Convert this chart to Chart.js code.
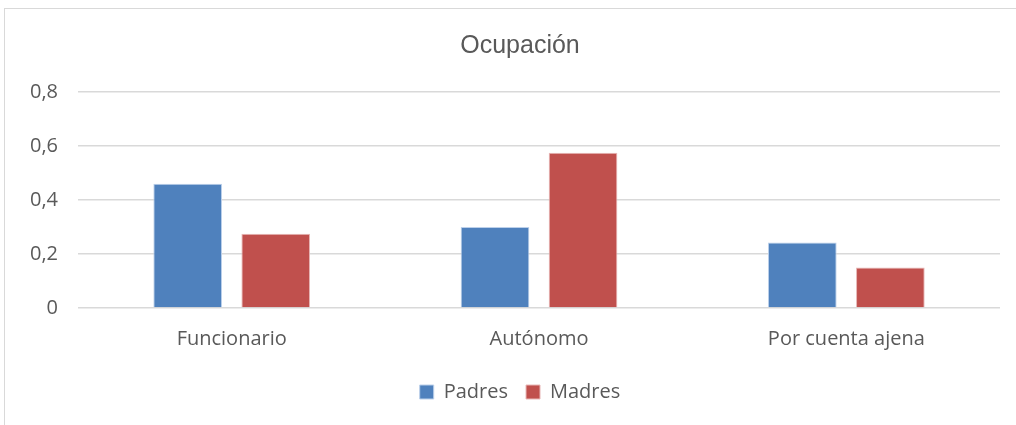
<!DOCTYPE html>
<html>
<head>
<meta charset="utf-8">
<script src="https://cdn.jsdelivr.net/npm/chart.js@4"></script>
<style>
  body { margin: 0; background: #fff; }
  #wrap { position: relative; width: 1016px; height: 425px; }
  #frame { position: absolute; left: 4px; top: 8px; width: 1030px; height: 440px; border: 1px solid #d9d9d9; box-sizing: border-box; }
  #chart { position: absolute; left: 0; top: 0; }
</style>
</head>
<body>
<div id="wrap">
  <div id="frame"></div>
  <canvas id="chart" width="1016" height="425"></canvas>
</div>
<script>
// Chart data
const categories = ['Funcionario', 'Autónomo', 'Por cuenta ajena'];
const padres = [0.46, 0.30, 0.243];
const madres = [0.275, 0.575, 0.15];
const yTicks = [0, 0.2, 0.4, 0.6, 0.8];

const textColor = '#595959';
const fontFamily = "'Open Sans', 'Noto Sans', sans-serif";

// nudge title and legend a bit right, like the original
const titleCenter = 520;
const centerBlocks = {
    id: 'centerBlocks',
    afterLayout(chart) {
        [chart.titleBlock, chart.legend].forEach(box => {
            if (box) {
                const shift = titleCenter - (box.left + box.right) / 2;
                box.left += shift;
                box.right += shift;
            }
        });
    }
};

const ctx = document.getElementById('chart').getContext('2d');
new Chart(ctx, {
    type: 'bar',
    data: {
        labels: categories,
        datasets: [{
            label: 'Padres',
            data: padres,
            backgroundColor: '#4f81bd',
            borderColor: '#bcd0ea',
            borderWidth: 1
        }, {
            label: 'Madres',
            data: madres,
            backgroundColor: '#c0504d',
            borderColor: '#e8b8b7',
            borderWidth: 1
        }]
    },
    plugins: [centerBlocks],
    options: {
        responsive: false,
        animation: false,
        categoryPercentage: 0.573,
        barPercentage: 0.78,
        layout: {
            padding: { left: 10, right: 16, top: 20, bottom: 13 }
        },
        plugins: {
            title: {
                display: true,
                text: 'Ocupación',
                color: textColor,
                font: { family: "'Liberation Sans', Arial, sans-serif", size: 25, weight: 'normal' },
                padding: { top: 11, bottom: 31 }
            },
            legend: {
                position: 'bottom',
                labels: {
                    color: textColor,
                    font: { family: fontFamily, size: 20 },
                    boxWidth: 14,
                    boxHeight: 14,
                    padding: 18
                }
            },
            tooltip: { enabled: false }
        },
        scales: {
            x: {
                grid: { display: false },
                border: { display: false },
                ticks: {
                    color: textColor,
                    font: { family: fontFamily, size: 20 },
                    padding: 11
                },
                afterFit: function(axis) {
                    axis.height += 2;
                }
            },
            y: {
                min: 0,
                max: 0.8,
                afterBuildTicks: function(axis) {
                    axis.ticks = yTicks.map(v => ({ value: v }));
                },
                grid: {
                    color: '#d9d9d9',
                    lineWidth: 1.5,
                    drawTicks: false
                },
                border: { display: false },
                ticks: {
                    color: textColor,
                    font: { family: fontFamily, size: 20 },
                    padding: 20,
                    callback: function(value) {
                        return value === 0 ? '0' : value.toFixed(1).replace('.', ',');
                    }
                }
            }
        }
    }
});
</script>
</body>
</html>
